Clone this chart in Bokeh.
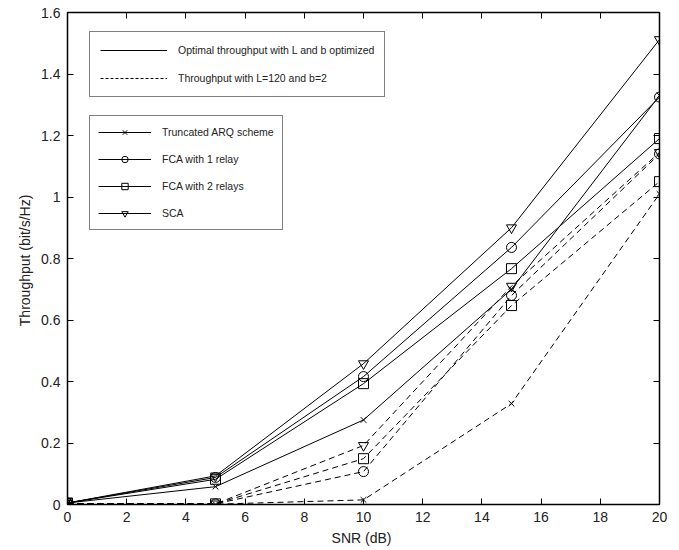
from bokeh.plotting import figure
from bokeh.models import (ColumnDataSource, Legend, LegendItem, LinearAxis,
                          FixedTicker, Range1d)
from bokeh.embed import file_html
from bokeh.resources import INLINE

# ---------------- data ----------------
snr = [0, 5, 10, 15, 20]

# optimal throughput (L and b optimized) - solid lines
arq_opt = [0.005, 0.058, 0.275, 0.700, 1.330]
fca1_opt = [0.005, 0.088, 0.416, 0.836, 1.325]
fca2_opt = [0.005, 0.082, 0.393, 0.767, 1.190]
sca_opt = [0.005, 0.093, 0.458, 0.900, 1.512]

# throughput with L=120 and b=2 - dashed lines
arq_fix = [0.003, 0.001, 0.015, 0.328, 1.010]
fca1_fix = [0.003, 0.002, 0.107, 0.680, 1.140]
fca2_fix = [0.003, 0.002, 0.149, 0.647, 1.050]
sca_fix = [0.003, 0.002, 0.192, 0.710, 1.145]

series_names = ["Truncated ARQ scheme", "FCA with 1 relay", "FCA with 2 relays", "SCA"]
series_markers = ["x", "circle", "square", "inverted_triangle"]

style_names = ["Optimal throughput with L and b optimized",
               "Throughput with L=120 and b=2"]

x_ticks = [0, 2, 4, 6, 8, 10, 12, 14, 16, 18, 20]
y_ticks = [0, 0.2, 0.4, 0.6, 0.8, 1.0, 1.2, 1.4, 1.6]
y_tick_labels = ["0", "0.2", "0.4", "0.6", "0.8", "1", "1.2", "1.4", "1.6"]

x_label = "SNR  (dB)"
y_label = "Throughput  (bit/s/Hz)"

FONT = "Liberation Sans"
TXT = "#222222"

# ---------------- figure ----------------
p = figure(width=679, height=550,
           x_range=Range1d(0, 20), y_range=Range1d(0, 1.6),
           output_backend="svg", toolbar_location=None,
           min_border_left=67, min_border_right=20,
           min_border_top=12, min_border_bottom=46)

p.xgrid.visible = False
p.ygrid.visible = False
p.outline_line_color = "black"
p.outline_line_width = 1
p.background_fill_color = "white"
p.border_fill_color = "white"

def style_axis(ax, labels=True):
    ax.axis_line_color = "black"
    ax.axis_line_width = 1.5
    ax.major_tick_line_color = "black"
    ax.major_tick_in = 6
    ax.major_tick_out = 0
    ax.minor_tick_line_color = None
    ax.major_label_text_font = FONT
    ax.major_label_text_color = TXT
    if labels:
        ax.major_label_text_font_size = "14px"
        ax.major_label_standoff = 7
    else:
        ax.major_label_text_font_size = "0px"
        ax.major_label_standoff = 0
        ax.major_label_text_alpha = 0

p.xaxis.ticker = FixedTicker(ticks=x_ticks)
p.yaxis.ticker = FixedTicker(ticks=y_ticks)
p.yaxis.major_label_overrides = {t: s for t, s in zip(y_ticks, y_tick_labels)}
style_axis(p.xaxis[0])
style_axis(p.yaxis[0])
p.xaxis.axis_label = x_label
p.yaxis.axis_label = y_label
for ax in (p.xaxis[0], p.yaxis[0]):
    ax.axis_label_text_font = FONT
    ax.axis_label_text_font_size = "14px"
    ax.axis_label_text_font_style = "normal"
    ax.axis_label_text_color = TXT
    ax.axis_label_standoff = 5

top_axis = LinearAxis(ticker=FixedTicker(ticks=x_ticks))
right_axis = LinearAxis(ticker=FixedTicker(ticks=y_ticks))
style_axis(top_axis, labels=False)
style_axis(right_axis, labels=False)
p.add_layout(top_axis, "above")
p.add_layout(right_axis, "right")

# ---------------- series ----------------
opt_vals = [arq_opt, fca1_opt, fca2_opt, sca_opt]
fix_vals = [arq_fix, fca1_fix, fca2_fix, sca_fix]

legend2_items = []
for name, marker, yo, yf in zip(series_names, series_markers, opt_vals, fix_vals):
    msize = 8 if marker == "x" else 10
    src_o = ColumnDataSource(data=dict(x=snr, y=yo))
    src_f = ColumnDataSource(data=dict(x=snr, y=yf))
    lo = p.line("x", "y", source=src_o, line_color="black", line_width=1)
    so = p.scatter("x", "y", source=src_o, marker=marker, size=msize,
                   line_color="black", fill_color=None, line_width=1)
    p.line("x", "y", source=src_f, line_color="black", line_width=1,
           line_dash="6 4")
    p.scatter("x", "y", source=src_f, marker=marker, size=msize,
              line_color="black", fill_color=None, line_width=1)
    legend2_items.append(LegendItem(label=name, renderers=[lo, so]))

# legend-only line renderers (no visible data) for the line-style legend
nan = float("nan")
key_s = ColumnDataSource(data=dict(x=[nan], y=[nan]))
key_d = ColumnDataSource(data=dict(x=[nan], y=[nan]))
r_solid = p.line("x", "y", source=key_s, line_color="black", line_width=1)
r_dash = p.line("x", "y", source=key_d, line_color="black", line_width=1,
                line_dash="3 2")

def style_legend(lg, glyph_w, pad):
    lg.border_line_color = "black"
    lg.border_line_width = 1
    lg.background_fill_color = "white"
    lg.background_fill_alpha = 1
    lg.label_text_font = FONT
    lg.label_text_font_size = "10.5px"
    lg.label_text_color = TXT
    lg.glyph_width = glyph_w
    lg.glyph_height = 16
    lg.label_height = 16
    lg.label_standoff = 11
    lg.padding = pad
    lg.margin = 0

legend1 = Legend(items=[LegendItem(label=style_names[0], renderers=[r_solid]),
                        LegendItem(label=style_names[1], renderers=[r_dash])],
                 location=(22, 407))
style_legend(legend1, 67, 10)
legend1.spacing = 12

legend2 = Legend(items=legend2_items, location=(22, 274))
style_legend(legend2, 53, 8)
legend2.spacing = 11

p.add_layout(legend1)
p.add_layout(legend2)

open("out.html", "w").write(file_html(p, INLINE))
